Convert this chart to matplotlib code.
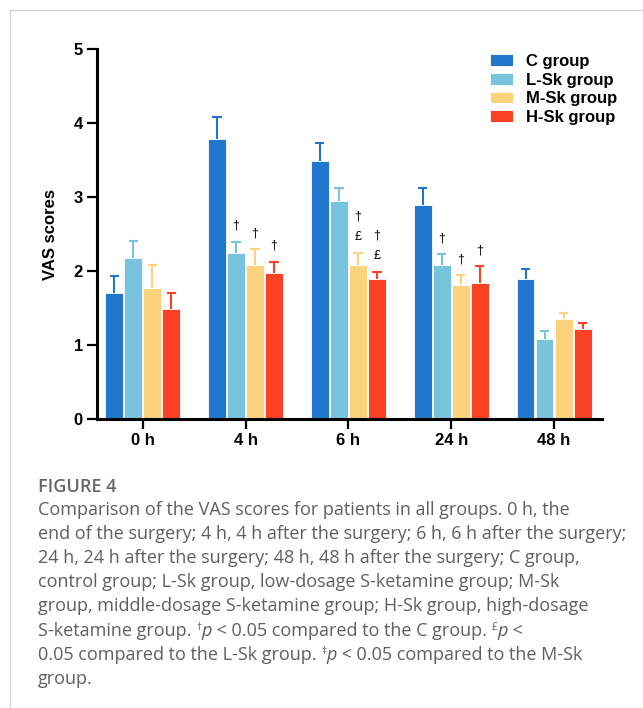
import numpy as np
import matplotlib.pyplot as plt
from matplotlib.lines import Line2D

# data
times = ['0 h', '4 h', '6 h', '24 h', '48 h']
groups = ['C group', 'L-Sk group', 'M-Sk group', 'H-Sk group']
c_mean = [1.71, 3.79, 3.49, 2.89, 1.89]
c_err = [0.22, 0.29, 0.25, 0.24, 0.14]
l_mean = [2.18, 2.25, 2.95, 2.08, 1.09]
l_err = [0.23, 0.15, 0.18, 0.15, 0.10]
m_mean = [1.78, 2.08, 2.08, 1.81, 1.35]
m_err = [0.30, 0.22, 0.17, 0.14, 0.09]
h_mean = [1.49, 1.98, 1.89, 1.84, 1.22]
h_err = [0.22, 0.15, 0.10, 0.23, 0.08]
colors = ['#2177CB', '#78C4DF', '#FDD27D', '#FB4124']
# significance marks per (group index, time index)
marks = {(1, 1): ['†'], (2, 1): ['†'], (3, 1): ['†'],
         (2, 2): ['£', '†'], (3, 2): ['£', '†'],
         (1, 3): ['†'], (2, 3): ['†'], (3, 3): ['†']}

means = [c_mean, l_mean, m_mean, h_mean]
errs = [c_err, l_err, m_err, h_err]

fig = plt.figure(figsize=(6.43, 7.08), dpi=100)
ax = fig.add_axes([0.1504, 0.4078, 0.7854, 0.5226])

pitch = 0.185
width = 0.173
cap = 0.045
x = np.arange(len(times))
for i in range(4):
    pos = x + (i - 1.5) * pitch
    m = np.array(means[i])
    e = np.array(errs[i])
    ax.bar(pos, m, width=width, color=colors[i], edgecolor='white',
           linewidth=0.6, label=groups[i], zorder=2)
    # upper error bars only
    ax.vlines(pos, m, m + e, color=colors[i], lw=1.5, zorder=1)
    ax.hlines(m + e, pos - cap, pos + cap, color=colors[i], lw=1.5, zorder=1)
    for j in range(5):
        for k, s in enumerate(marks.get((i, j), [])):
            ax.annotate(s, (pos[j], m[j] + e[j]),
                        xytext=(0, 11.5 + 14.5 * k), textcoords='offset points',
                        ha='center', va='center', fontsize=9,
                        family='Liberation Sans')

ax.set_xlim(-0.447, 4.463)
ax.set_ylim(0, 5)
ax.set_xticks(x)
ax.set_xticklabels(times)
ax.set_yticks(range(6))
for sp in ['top', 'right']:
    ax.spines[sp].set_visible(False)
for sp in ['left', 'bottom']:
    ax.spines[sp].set_linewidth(2.2)
ax.tick_params(width=1.6, length=7, pad=3)
for lab in ax.get_xticklabels() + ax.get_yticklabels():
    lab.set_fontfamily('Liberation Sans')
    lab.set_fontweight('bold')
    lab.set_fontsize(12)
ax.set_ylabel('VAS scores', fontsize=12, fontweight='bold',
              family='Liberation Sans', labelpad=11)

leg = ax.legend(loc='upper left', bbox_to_anchor=(0.765, 1.005), frameon=False,
                prop={'family': 'Liberation Sans', 'weight': 'bold', 'size': 12},
                handlelength=1.4, handleheight=0.7, handletextpad=0.75,
                labelspacing=0.22, borderaxespad=0)

# frame lines of the page
fig.add_artist(Line2D([10 / 643, 10 / 643], [0, 698 / 708], color='#d4d4d4', lw=1))
fig.add_artist(Line2D([10 / 643, 1], [698 / 708, 698 / 708], color='#d4d4d4', lw=1))

# caption
cap_color = '#5f5f5f'
cap_font = 'Open Sans'
fig.text(38 / 643, 1 - 487 / 708, 'FIGURE 4', fontsize=13, color='#666666',
         family=cap_font, fontweight='semibold', va='center')

lines = [
    [('Comparison of the VAS scores for patients in all groups. 0 h, the', 'n')],
    [('end of the surgery; 4 h, 4 h after the surgery; 6 h, 6 h after the surgery;', 'n')],
    [('24 h, 24 h after the surgery; 48 h, 48 h after the surgery; C group,', 'n')],
    [('control group; L-Sk group, low-dosage S-ketamine group; M-Sk', 'n')],
    [('group, middle-dosage S-ketamine group; H-Sk group, high-dosage', 'n')],
    [('S-ketamine group. ', 'n'), ('†', 's'), ('p', 'i'),
     (' < 0.05 compared to the C group. ', 'n'), ('£', 's'), ('p', 'i'), (' <', 'n')],
    [('0.05 compared to the L-Sk group. ', 'n'), ('‡', 's'), ('p', 'i'),
     (' < 0.05 compared to the M-Sk', 'n')],
    [('group.', 'n')],
]
line_y = [510, 534, 558, 582, 606, 631, 655, 679]

renderer = fig.canvas.get_renderer()
for segs, yy in zip(lines, line_y):
    xp = 38.0
    for txt, kind in segs:
        kw = dict(fontsize=13, color=cap_color, family=cap_font, va='baseline')
        yb = 1 - (yy + 5) / 708
        if kind == 'i':
            kw['style'] = 'italic'
        if kind == 's':
            kw['fontsize'] = 7.5
            yb += 6 / 708
        t = fig.text(xp / 643, yb, txt, **kw)
        bb = t.get_window_extent(renderer=renderer)
        xp += bb.width

fig.savefig('out.png', dpi=100)
